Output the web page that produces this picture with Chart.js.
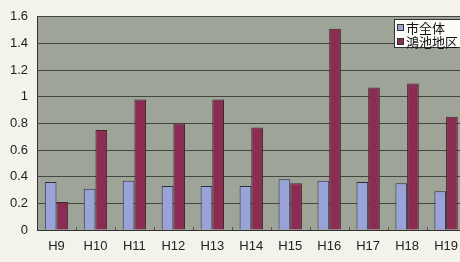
<!DOCTYPE html>
<html><head><meta charset="utf-8">
<script src="https://cdn.jsdelivr.net/npm/chart.js@4/dist/chart.umd.min.js"></script>
<style>
html,body{margin:0;padding:0;background:#f3f3ec;overflow:hidden;width:460px;height:262px;}
#wrap{position:relative;width:467px;height:262px;}
#legend{position:absolute;left:394px;top:19px;width:68px;height:29px;background:#fbfbf8;border:1px solid #333;font-family:"Noto Sans CJK JP",sans-serif;font-size:13px;color:#111;line-height:13px;padding:1px 0 0 2px;box-sizing:border-box;white-space:nowrap;}
#legend div{display:flex;align-items:center;height:13.5px;}
#legend span.b{display:inline-block;width:5px;height:5px;border:1px solid #333;margin-right:2px;flex:none;}
</style></head>
<body>
<div id="wrap"><canvas id="c" width="467" height="262"></canvas>
<div id="legend"></div></div>
<script>
const categories = ["H9","H10","H11","H12","H13","H14","H15","H16","H17","H18","H19"];
const seriesNames = ["市全体","鴻池地区"];
const cityValues = [0.36,0.31,0.37,0.33,0.33,0.33,0.38,0.37,0.36,0.35,0.29];
const konoikeValues = [0.21,0.75,0.98,0.80,0.98,0.77,0.35,1.51,1.07,1.10,0.85];
const yTicks = [0,0.2,0.4,0.6,0.8,1,1.2,1.4,1.6];
const colors = ["#9aa3d9","#8c2c53"];

const leg = document.getElementById('legend');
seriesNames.forEach((n,i)=>{
  const d=document.createElement('div');
  d.innerHTML='<span class="b" style="background:'+colors[i]+'"></span>'+n;
  leg.appendChild(d);
});

const bgPlugin = {
  id:'bg',
  beforeDraw(chart){
    const {ctx, chartArea:a} = chart;
    ctx.save();
    ctx.fillStyle='#9fa499';
    ctx.fillRect(a.left,a.top,a.right-a.left,a.bottom-a.top);
    ctx.restore();
  },
  afterDatasetsDraw(chart){
    const {ctx, chartArea:a} = chart;
    ctx.save();
    ctx.strokeStyle='#333';
    ctx.lineWidth=1;
    ctx.beginPath();
    ctx.moveTo(a.left+0.5,a.top);ctx.lineTo(a.left+0.5,a.bottom+0.5);ctx.lineTo(a.right,a.bottom+0.5);
    ctx.stroke();
    const xs = chart.scales.x;
    ctx.strokeStyle='#555';
    for(let i=1;i<categories.length;i++){
      const x=Math.round((xs.getPixelForValue(i-1)+xs.getPixelForValue(i))/2)+0.5;
      ctx.beginPath();ctx.moveTo(x,a.bottom-3);ctx.lineTo(x,a.bottom);ctx.stroke();
    }
    ctx.restore();
  }
};

new Chart(document.getElementById('c'),{
  type:'bar',
  data:{labels:categories,datasets:[
    {label:seriesNames[0],data:cityValues,backgroundColor:colors[0],borderColor:'#2f2f3a',borderWidth:1,categoryPercentage:0.6,barPercentage:1},
    {label:seriesNames[1],data:konoikeValues,backgroundColor:colors[1],borderColor:'#3a2a30',borderWidth:1,categoryPercentage:0.6,barPercentage:1}
  ]},
  options:{
    responsive:false,animation:false,
    layout:{padding:{top:14,left:0,right:0,bottom:0}},
    plugins:{legend:{display:false},tooltip:{enabled:false}},
    scales:{
      x:{
        grid:{display:false,drawTicks:false},
        border:{display:false},
        ticks:{color:'#222',font:{family:'Liberation Sans',size:13},padding:9},
        afterFit(s){s.height=32;}
      },
      y:{
        min:0,max:1.6,
        afterBuildTicks(s){s.ticks=yTicks.map(v=>({value:v}));},
        grid:{color:'#44473f',lineWidth:1,drawTicks:false},
        border:{display:false},
        ticks:{color:'#222',font:{family:'Liberation Sans',size:13},padding:9,callback:v=>String(v)},
        afterFit(s){s.width=37;}
      }
    }
  },
  plugins:[bgPlugin]
});
</script>
</body></html>
